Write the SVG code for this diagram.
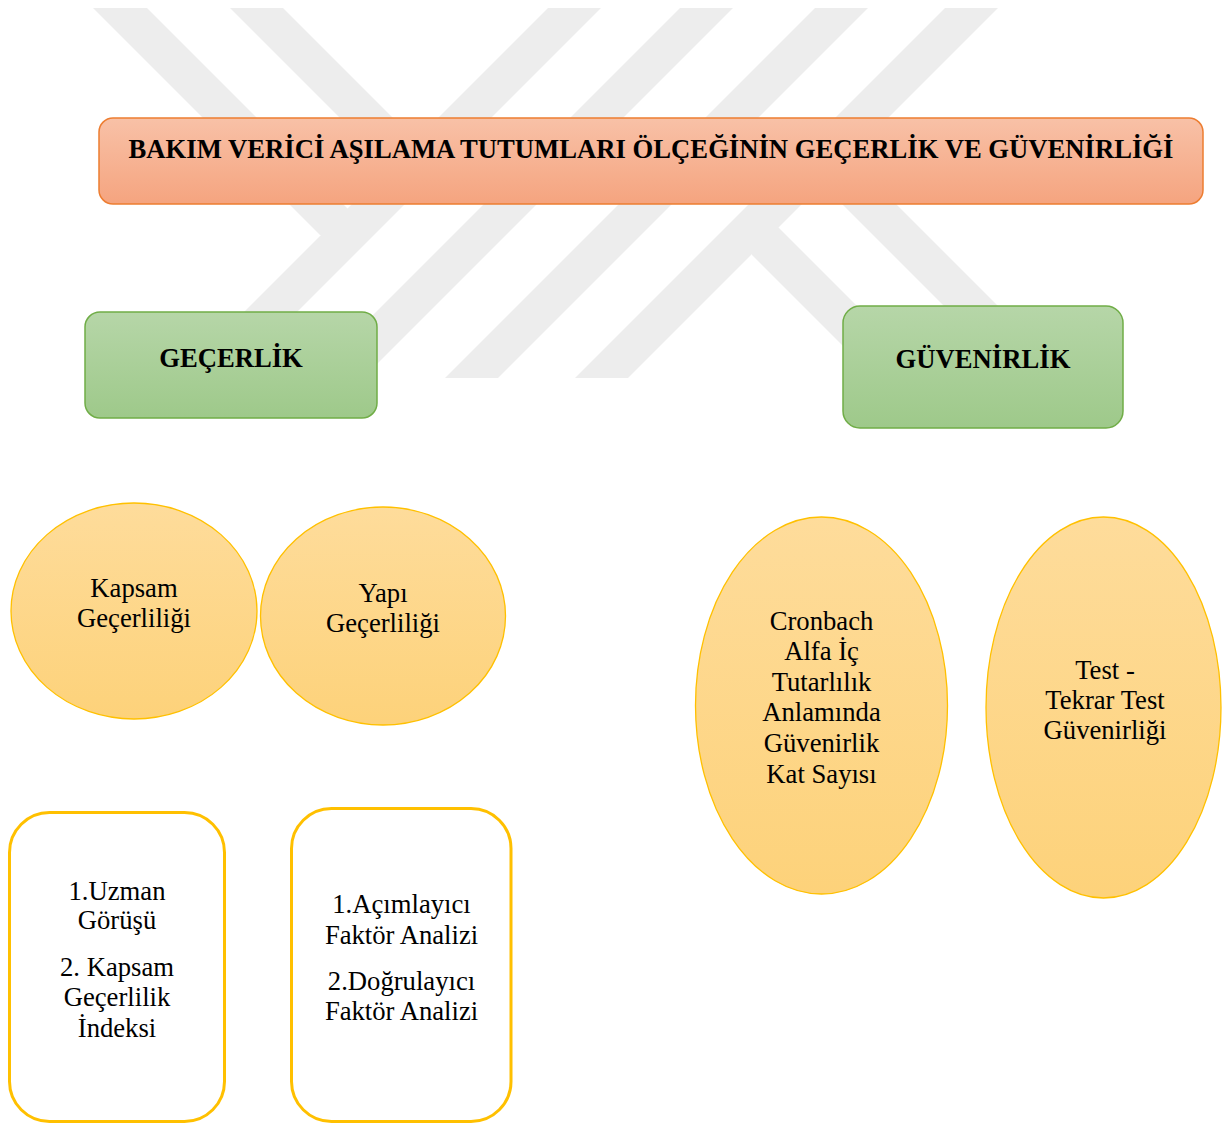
<svg xmlns="http://www.w3.org/2000/svg" width="1224" height="1124" viewBox="0 0 1224 1124">
<defs>
<linearGradient id="gOrange" x1="0" y1="0" x2="0" y2="1"><stop offset="0" stop-color="#f8c1a7"/><stop offset="1" stop-color="#f5a47f"/></linearGradient>
<linearGradient id="gGreen" x1="0" y1="0" x2="0" y2="1"><stop offset="0" stop-color="#b6d6a8"/><stop offset="1" stop-color="#9ec98a"/></linearGradient>
<linearGradient id="gGold" x1="0" y1="0" x2="0" y2="1"><stop offset="0" stop-color="#fedc9b"/><stop offset="1" stop-color="#fdd27a"/></linearGradient>
</defs>
<style>
.t{font-family:"Liberation Serif","Times New Roman",serif;font-size:26.67px;fill:#000;text-anchor:middle}
.b{font-weight:bold}
.wm{fill:#ededed}
.title{fill:url(#gOrange);stroke:#ed7d31;stroke-width:1.5}
.hdr{fill:url(#gGreen);stroke:#70ad47;stroke-width:1.5}
.ell{fill:url(#gGold);stroke:#ffc000;stroke-width:1.3}
.box{fill:#fff;stroke:#ffc000;stroke-width:3}
</style>
<rect width="1224" height="1124" fill="#fff"/>
<g id="watermark">
<polygon class="wm" points="548,8 601,8 231,378 178,378"/>
<polygon class="wm" points="680,8 733,8 363,378 310,378"/>
<polygon class="wm" points="815,8 868,8 498,378 445,378"/>
<polygon class="wm" points="945,8 998,8 628,378 575,378"/>
<polygon class="wm" points="93,8 147,8 374,235 320,235"/>
<polygon class="wm" points="230,8 283,8 442,167 389,167"/>
<polygon class="wm" points="752,201 929,378 875,378 752,255"/>
<polygon class="wm" points="795,157 849,157 1070,378 1016,378"/>
</g>
<g id="connectors"/>
<g id="title">
<rect class="title" x="99" y="118" width="1104" height="86" rx="14"/>
<text class="t b" x="651" y="157.5">BAKIM VERİCİ AŞILAMA TUTUMLARI ÖLÇEĞİNİN GEÇERLİK VE GÜVENİRLİĞİ</text>
</g>
<g id="gecerlik">
<rect class="hdr" x="85" y="312" width="292" height="106" rx="15"/>
<text class="t b" x="231" y="367">GEÇERLİK</text>
</g>
<g id="guvenirlik">
<rect class="hdr" x="843" y="306" width="280" height="122" rx="17"/>
<text class="t b" x="983" y="368">GÜVENİRLİK</text>
</g>
<g id="kapsam">
<ellipse class="ell" cx="134" cy="611" rx="123" ry="108"/>
<text class="t" x="134" y="597">Kapsam</text>
<text class="t" x="134" y="627">Geçerliliği</text>
</g>
<g id="yapi">
<ellipse class="ell" cx="383" cy="616" rx="122.5" ry="109"/>
<text class="t" x="383" y="602">Yapı</text>
<text class="t" x="383" y="632">Geçerliliği</text>
</g>
<g id="cronbach">
<ellipse class="ell" cx="821.5" cy="705.5" rx="126" ry="188.5"/>
<text class="t" x="821.5" y="629.5">Cronbach</text>
<text class="t" x="821.5" y="660">Alfa İç</text>
<text class="t" x="821.5" y="690.5">Tutarlılık</text>
<text class="t" x="821.5" y="721">Anlamında</text>
<text class="t" x="821.5" y="751.5">Güvenirlik</text>
<text class="t" x="821.5" y="782.5">Kat Sayısı</text>
</g>
<g id="testtekrar">
<ellipse class="ell" cx="1103.5" cy="707.5" rx="117.5" ry="190.5"/>
<text class="t" x="1105" y="678.5">Test -</text>
<text class="t" x="1105" y="708.5">Tekrar Test</text>
<text class="t" x="1105" y="738.5">Güvenirliği</text>
</g>
<g id="kapsam-yontem">
<rect class="box" x="9.5" y="812.5" width="215" height="309" rx="40"/>
<text class="t" x="117" y="899.5">1.Uzman</text>
<text class="t" x="117" y="928.5">Görüşü</text>
<text class="t" x="117" y="976">2. Kapsam</text>
<text class="t" x="117" y="1006">Geçerlilik</text>
<text class="t" x="117" y="1036.5">İndeksi</text>
</g>
<g id="yapi-yontem">
<rect class="box" x="291.5" y="808.5" width="219.5" height="313" rx="40"/>
<text class="t" x="401.5" y="913">1.Açımlayıcı</text>
<text class="t" x="401.5" y="943.5">Faktör Analizi</text>
<text class="t" x="401.5" y="989.5">2.Doğrulayıcı</text>
<text class="t" x="401.5" y="1020">Faktör Analizi</text>
</g>
</svg>
